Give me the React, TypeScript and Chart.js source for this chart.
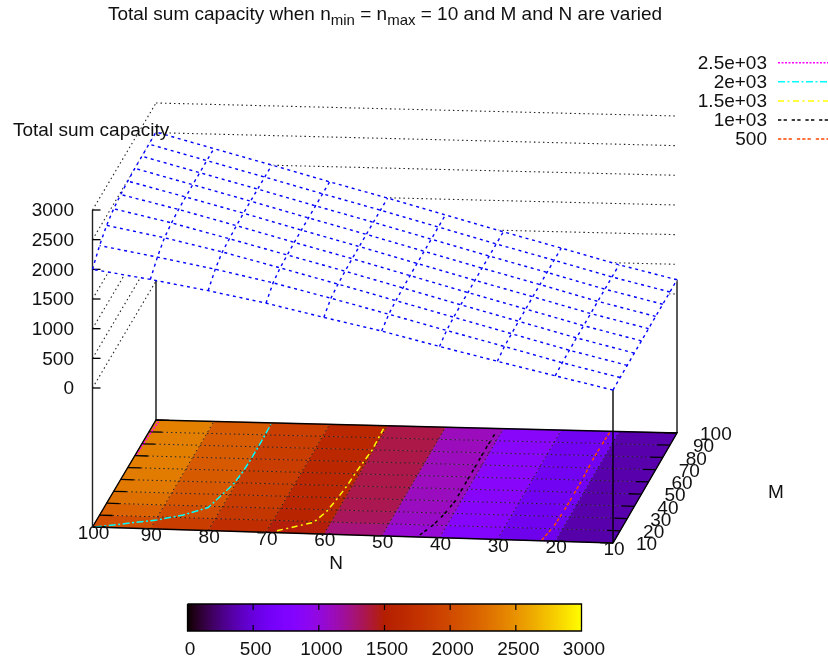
import React, { useEffect, useRef } from "react";
import { Chart, registerables } from "chart.js";

Chart.register(...registerables);

// ---- data ----
const nValues = [10, 20, 30, 40, 50, 60, 70, 80, 90, 100];
const mValues = [10, 20, 30, 40, 50, 60, 70, 80, 90, 100];

const capacityM10 = [235, 445, 660, 880, 1110, 1310, 1520, 1700, 1860, 2000];
const capacityM20 = [240, 460, 705, 945, 1190, 1430, 1660, 1860, 2035, 2200];
const capacityM30 = [240, 465, 715, 965, 1215, 1465, 1710, 1950, 2160, 2340];
const capacityM40 = [240, 468, 720, 970, 1225, 1480, 1725, 1970, 2210, 2420];
const capacityM50 = [240, 468, 722, 972, 1230, 1488, 1735, 1990, 2235, 2460];
const capacityM60 = [240, 468, 724, 974, 1232, 1490, 1740, 1998, 2245, 2485];
const capacityM70 = [240, 468, 725, 975, 1233, 1492, 1743, 2000, 2250, 2500];
const capacityM80 = [240, 468, 725, 975, 1234, 1493, 1744, 2001, 2252, 2503];
const capacityM90 = [240, 468, 725, 975, 1235, 1494, 1745, 2002, 2254, 2507];
const capacityM100 = [240, 468, 725, 975, 1235, 1495, 1745, 2003, 2255, 2510];
const capacityRows = [
  capacityM10, capacityM20, capacityM30, capacityM40, capacityM50,
  capacityM60, capacityM70, capacityM80, capacityM90, capacityM100,
];

const contour500N = [22.4, 21.7, 21.5, 21.5, 21.7, 21.6, 21.5];
const contour500M = [10.7, 21.5, 38.8, 59.9, 78, 93.5, 100];
const contour1000N = [43.6, 42.3, 41.5, 41, 41, 41, 41, 41, 40.9];
const contour1000M = [11.7, 20.3, 29.7, 40.1, 51.4, 64, 75.2, 85, 96.2];
const contour1500N = [68.3, 62.9, 61.8, 61.3, 60.9, 60.7, 60.2, 60.4];
const contour1500M = [11.6, 19.3, 28.6, 38.5, 49.8, 62.4, 79.2, 97.5];
const contour2000N = [99.6, 89.8, 85.8, 82.3, 81.4, 80.4, 80, 79.9, 79.9, 80];
const contour2000M = [10, 17.4, 22.2, 28.9, 38.3, 48.3, 59.5, 71, 84.7, 98.8];
const contour2500N = [99.8, 99.7, 99.4];
const contour2500M = [70.7, 84.7, 98.6];

const zTicks = [0, 500, 1000, 1500, 2000, 2500, 3000];
const cbTicks = [0, 500, 1000, 1500, 2000, 2500, 3000];
const legendLabels = ["2.5e+03", "2e+03", "1.5e+03", "1e+03", "500"];

// ---- view ----
const W = 828;
const H = 666;
const FONT = '"Liberation Sans", Arial, sans-serif';
const cFL = { x: 92.5, y: 527 }; // N=100, M=10
const cFR = { x: 613, y: 543 }; // N=10, M=10
const cBL = { x: 156, y: 420 }; // N=100, M=100
const cBR = { x: 677, y: 433 }; // N=10, M=100
const zScale = 178 / 3000;
const zFloor = -139 / zScale;

function project(N: number, M: number, z: number = zFloor) {
  const u = (100 - N) / 90;
  const v = (M - 10) / 90;
  const lerp = (k: "x" | "y") =>
    (1 - u) * (1 - v) * cFL[k] + u * (1 - v) * cFR[k] + (1 - u) * v * cBL[k] + u * v * cBR[k];
  return { x: lerp("x"), y: lerp("y") - (z - zFloor) * zScale };
}

function palette(v: number) {
  const t = Math.min(1, Math.max(0, v / 3000));
  const r = Math.sqrt(t);
  const g = t * t * t;
  const b = Math.max(0, Math.sin(2 * Math.PI * t));
  return `rgb(${Math.round(r * 255)},${Math.round(g * 255)},${Math.round(b * 255)})`;
}

const cbLeft = 187.5;
const cbRight = 581.5;
const cbTop = 604;
const cbBottom = 631;
const cbX = (v: number) => cbLeft + (v / 3000) * (cbRight - cbLeft);

function buildDatasets() {
  const layers: any[] = [];
  const line = (data: { x: number; y: number }[], color: string, width = 1, dash: number[] = []) =>
    layers.push({
      type: "line",
      data,
      borderColor: color,
      borderWidth: width,
      borderDash: dash,
      pointRadius: 0,
      fill: false,
      tension: 0,
    });
  const poly = (data: { x: number; y: number }[], color: string) =>
    layers.push({
      type: "line",
      data: [...data, data[0]],
      borderColor: color,
      backgroundColor: color,
      borderWidth: 0.6,
      pointRadius: 0,
      fill: "shape",
      tension: 0,
    });
  const dotted = [1.5, 3];
  const wallColor = "#222";

  // walls
  zTicks.forEach((z) => {
    line([project(100, 10, z), project(100, 100, z)], wallColor, 1.1, dotted);
    line([project(100, 100, z), project(10, 100, z)], wallColor, 1.1, dotted);
  });
  // rear verticals, up to the surface
  line([project(100, 100), project(100, 100, capacityM100[9])], "#000", 1.3);
  line([project(10, 100), project(10, 100, capacityM100[0])], "#000", 1.3);

  // white surface (hides what lies behind it)
  for (let j = 0; j < mValues.length - 1; j++) {
    for (let i = 0; i < nValues.length - 1; i++) {
      poly(
        [
          project(nValues[i], mValues[j], capacityRows[j][i]),
          project(nValues[i + 1], mValues[j], capacityRows[j][i + 1]),
          project(nValues[i + 1], mValues[j + 1], capacityRows[j + 1][i + 1]),
          project(nValues[i], mValues[j + 1], capacityRows[j + 1][i]),
        ],
        "#ffffff"
      );
    }
  }

  // coloured base
  for (let j = 0; j < mValues.length - 1; j++) {
    for (let i = 0; i < nValues.length - 1; i++) {
      const mean =
        (capacityRows[j][i] + capacityRows[j][i + 1] + capacityRows[j + 1][i] + capacityRows[j + 1][i + 1]) / 4;
      poly(
        [
          project(nValues[i], mValues[j]),
          project(nValues[i + 1], mValues[j]),
          project(nValues[i + 1], mValues[j + 1]),
          project(nValues[i], mValues[j + 1]),
        ],
        palette(mean)
      );
    }
  }

  // base grid
  const tickLen = (13 / 521) * 90;
  nValues.slice(1, 9).forEach((n) => line([project(n, 10), project(n, 100)], "#222", 1, dotted));
  mValues.slice(1, 9).forEach((m) => line([project(100 - tickLen, m), project(10 + tickLen, m)], "#222", 1, dotted));
  mValues.forEach((m) => {
    line([project(100, m), project(100 - tickLen, m)], "#000", 1.3);
    line([project(10, m), project(10 + tickLen, m)], "#000", 1.3);
  });

  // contours on the base
  const contour = (ns: number[], ms: number[], color: string, dash: number[], width = 1.5) =>
    line(ns.map((n, i) => project(n, ms[i])), color, width, dash);
  contour(contour500N, contour500M, "#ff4500", [3.3, 2, 3.3, 2, 3.3, 5]);
  contour(contour1000N, contour1000M, "#000000", [3.3, 2.3, 3.3, 4.8]);
  contour(contour1500N, contour1500M, "#ffff00", [6, 3.5, 2, 3.5]);
  contour(contour2000N, contour2000M, "#00ffff", [7, 2.5, 2, 2.5]);
  contour(contour2500N, contour2500M, "#ff00ff", [2, 1.5]);

  // base outline
  line([project(100, 10), project(10, 10), project(10, 100), project(100, 100), project(100, 10)], "#000", 1.4);
  // z axis and front vertical
  line([project(100, 10), project(100, 10, 3000)], "#222", 1.4);
  line([project(10, 10), project(10, 10, capacityM10[0])], "#000", 1.4);
  zTicks.forEach((z) => {
    const p = project(100, 10, z);
    line([p, { x: p.x + 8, y: p.y }], "#000", 1.3);
  });

  // surface mesh
  const blueDash = [3, 3.7];
  capacityRows.forEach((row, j) =>
    line(row.map((z, i) => project(nValues[i], mValues[j], z)), "#0000ff", 1.4, blueDash)
  );
  nValues.forEach((n, i) =>
    line(capacityRows.map((row, j) => project(n, mValues[j], row[i])), "#0000ff", 1.4, blueDash)
  );

  // legend samples
  const legendY = [62.7, 81.7, 101, 120, 139];
  const legendColors = ["#ff00ff", "#00ffff", "#ffff00", "#000000", "#ff4500"];
  const legendDash = [
    [2, 1.5],
    [7, 2.5, 2, 2.5],
    [6, 3.5, 2, 3.5],
    [3.3, 2.3, 3.3, 4.8],
    [3.3, 2, 3.3, 2, 3.3, 5],
  ];
  legendY.forEach((y, i) =>
    line([{ x: 778, y }, { x: 828, y }], legendColors[i], 1.5, legendDash[i])
  );

  // colour box
  for (let x = Math.ceil(cbLeft); x < cbRight; x++) {
    const v = ((x - cbLeft) / (cbRight - cbLeft)) * 3000;
    line([{ x: x + 0.5, y: cbTop }, { x: x + 0.5, y: cbBottom }], palette(v), 1.2);
  }
  cbTicks.slice(1, 6).forEach((v) => {
    line([{ x: cbX(v), y: cbTop }, { x: cbX(v), y: cbTop + 6 }], "#000", 1.2);
    line([{ x: cbX(v), y: cbBottom }, { x: cbX(v), y: cbBottom - 6 }], "#000", 1.2);
  });
  line(
    [
      { x: cbLeft, y: cbTop },
      { x: cbRight, y: cbTop },
      { x: cbRight, y: cbBottom },
      { x: cbLeft, y: cbBottom },
      { x: cbLeft, y: cbTop },
    ],
    "#000",
    1.3
  );

  const total = layers.length;
  layers.forEach((d, i) => (d.order = total - i));
  return layers;
}

const textPlugin = {
  id: "gnuplotText",
  afterDatasetsDraw(chart: any) {
    const ctx = chart.ctx as CanvasRenderingContext2D;
    const ink = "#111";
    const tSize = 19;
    const subSize = 15;
    const txt = (s: string, x: number, y: number, align: CanvasTextAlign = "center", size = tSize) => {
      ctx.font = `${size}px ${FONT}`;
      ctx.textAlign = align;
      ctx.textBaseline = "middle";
      ctx.fillStyle = ink;
      ctx.fillText(s, x, y + 1);
    };
    ctx.save();
    // title with subscripts
    const parts: [string, boolean][] = [
      ["Total sum capacity when n", false],
      ["min", true],
      [" = n", false],
      ["max", true],
      [" = 10 and M and N are varied", false],
    ];
    let tw = 0;
    parts.forEach(([s, sub]) => {
      ctx.font = `${sub ? subSize : tSize}px ${FONT}`;
      tw += ctx.measureText(s).width;
    });
    let tx = 385 - tw / 2;
    parts.forEach(([s, sub]) => {
      txt(s, tx, sub ? 20 : 14, "left", sub ? subSize : tSize);
      tx += ctx.measureText(s).width;
    });

    txt("Total sum capacity", 13, 130, "left");
    txt("N", 336, 563);
    txt("M", 776, 492);

    zTicks.forEach((z) => {
      const p = project(100, 10, z);
      txt(String(z), 74, p.y, "right");
    });
    nValues.forEach((n) => {
      const p = project(n, 10);
      txt(String(n), p.x + 1, p.y + 6);
    });
    mValues.forEach((m) => {
      const p = project(10, m);
      txt(String(m), p.x + 23, p.y + 1, "left");
    });
    const legendY = [62.7, 81.7, 101, 120, 139];
    legendLabels.forEach((s, i) => txt(s, 767, legendY[i], "right"));
    cbTicks.forEach((v) => txt(String(v), cbX(v) + 2.5, 649));
    ctx.restore();
  },
};

export default function App() {
  const ref = useRef<HTMLCanvasElement>(null);
  useEffect(() => {
    document.body.style.margin = "0";
    document.body.style.background = "#fff";
    const chart = new Chart(ref.current as HTMLCanvasElement, {
      type: "scatter",
      data: { datasets: buildDatasets() },
      options: {
        animation: false,
        responsive: false,
        layout: { padding: 0 },
        parsing: false as any,
        normalized: true,
        plugins: { legend: { display: false }, tooltip: { enabled: false }, title: { display: false } },
        scales: {
          x: { type: "linear", min: 0, max: W, display: false },
          y: { type: "linear", min: 0, max: H, reverse: true, display: false },
        },
      } as any,
      plugins: [textPlugin],
    });
    return () => chart.destroy();
  }, []);
  return <canvas ref={ref} width={W} height={H} style={{ display: "block" }} />;
}
